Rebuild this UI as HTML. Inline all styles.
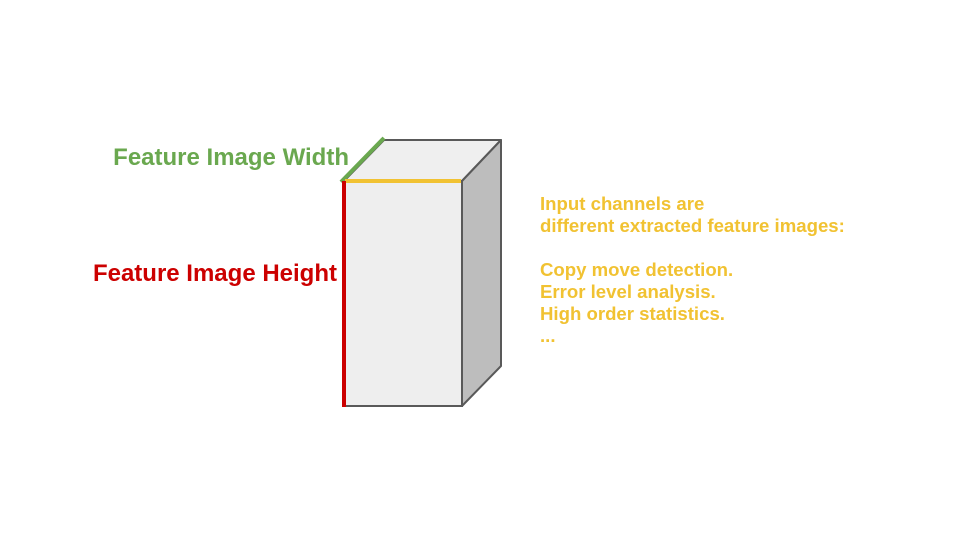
<!DOCTYPE html>
<html><head><meta charset="utf-8"><style>
html,body{margin:0;padding:0;background:#fff;}
svg{display:block;}
text{font-family:"Liberation Sans",Arial,sans-serif;font-weight:bold;}
</style></head><body>
<svg width="960" height="540" viewBox="0 0 960 540">
  <polygon points="344,181 384,140 501,140 462,181" fill="#efefef" stroke="#595959" stroke-width="2" stroke-linejoin="round"/>
  <polygon points="462,181 501,140 501,366 462,406" fill="#bdbdbd" stroke="#595959" stroke-width="2" stroke-linejoin="round"/>
  <rect x="344" y="181" width="118" height="225" fill="#eeeeee" stroke="#595959" stroke-width="2"/>
  <line x1="341" y1="182" x2="384" y2="138" stroke="#6aa84f" stroke-width="4"/>
  <line x1="345" y1="181" x2="461" y2="181" stroke="#f1c232" stroke-width="4"/>
  <line x1="344" y1="181" x2="344" y2="407" stroke="#cc0000" stroke-width="4"/>
  <text x="349" y="165" text-anchor="end" font-size="24" fill="#6aa84f">Feature Image Width</text>
  <text x="337" y="281" text-anchor="end" font-size="24" fill="#cc0000">Feature Image Height</text>
  <g font-size="18.6" fill="#f1c232">
    <text x="540" y="210">Input channels are</text>
    <text x="540" y="232">different extracted feature images:</text>
    <text x="540" y="276">Copy move detection.</text>
    <text x="540" y="298">Error level analysis.</text>
    <text x="540" y="320">High order statistics.</text>
    <text x="540" y="342">...</text>
  </g>
</svg>
</body></html>
